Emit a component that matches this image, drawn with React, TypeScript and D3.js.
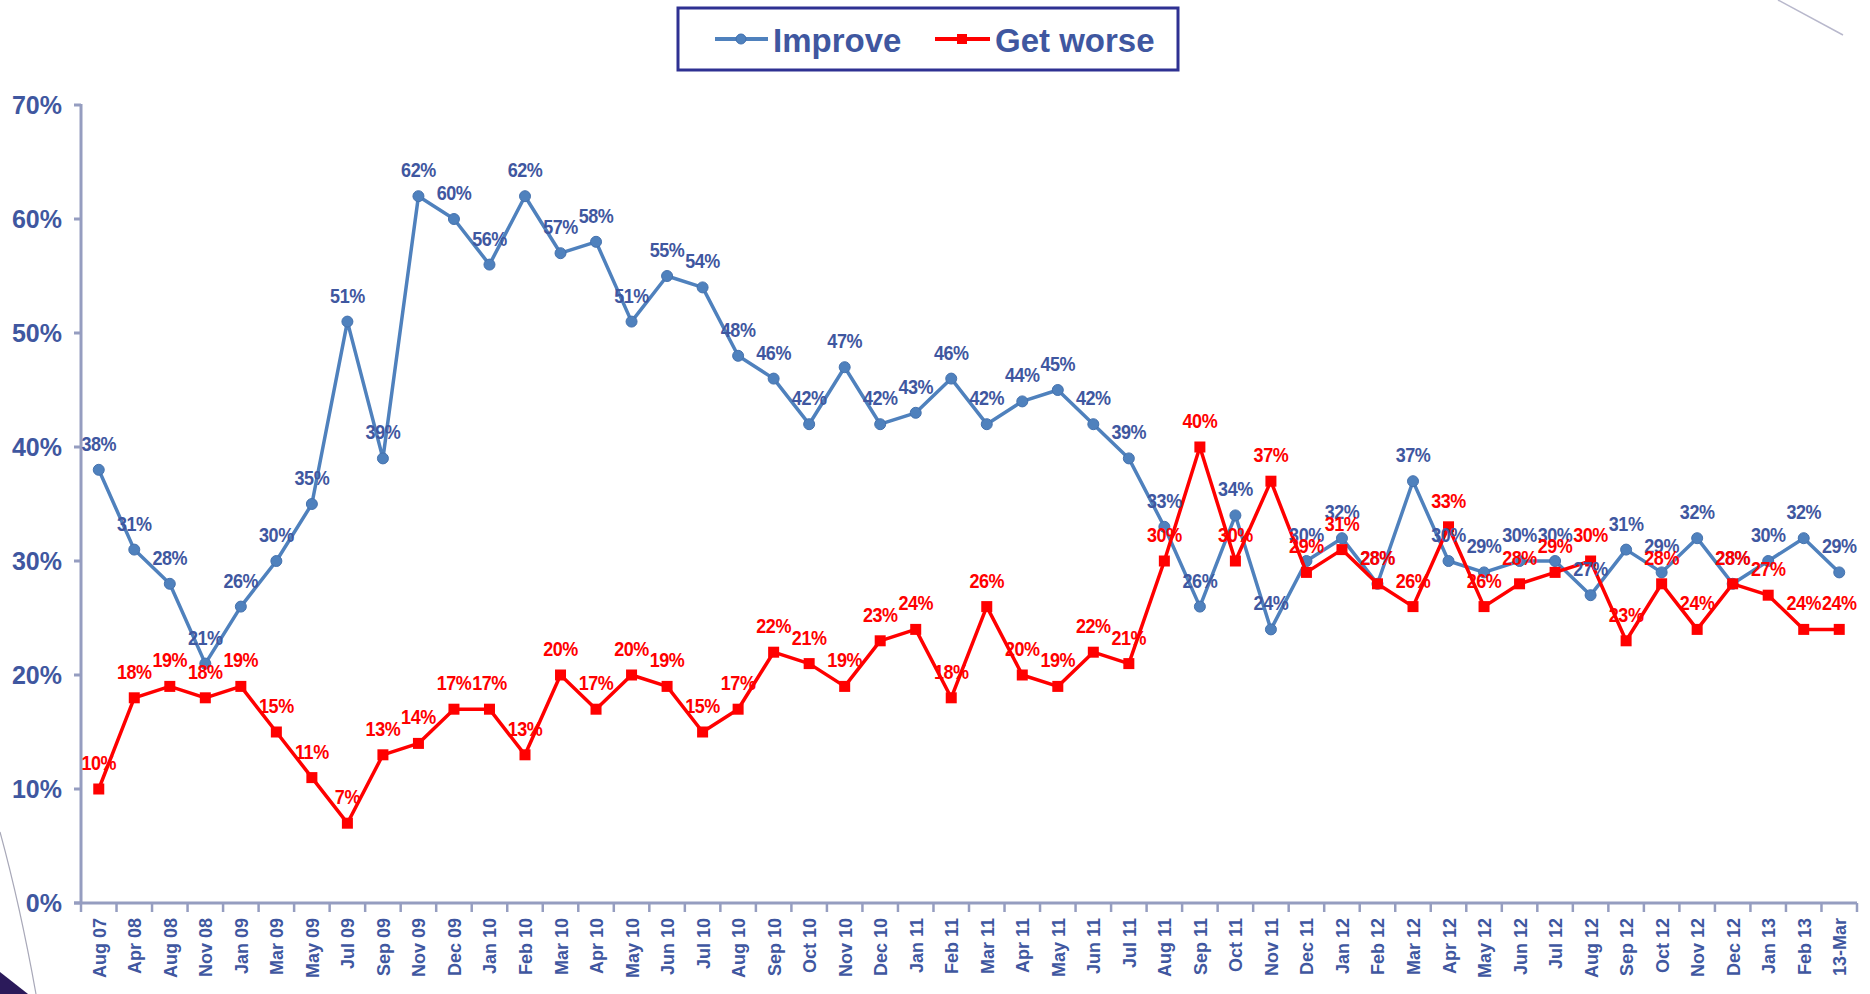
import React from "react";
import * as d3 from "d3";

const categories = [
  "Aug 07", "Apr 08", "Aug 08", "Nov 08", "Jan 09", "Mar 09", "May 09", "Jul 09", "Sep 09", "Nov 09",
  "Dec 09", "Jan 10", "Feb 10", "Mar 10", "Apr 10", "May 10", "Jun 10", "Jul 10", "Aug 10", "Sep 10",
  "Oct 10", "Nov 10", "Dec 10", "Jan 11", "Feb 11", "Mar 11", "Apr 11", "May 11", "Jun 11", "Jul 11",
  "Aug 11", "Sep 11", "Oct 11", "Nov 11", "Dec 11", "Jan 12", "Feb 12", "Mar 12", "Apr 12", "May 12",
  "Jun 12", "Jul 12", "Aug 12", "Sep 12", "Oct 12", "Nov 12", "Dec 12", "Jan 13", "Feb 13", "13-Mar",
];

const improve = [
  38, 31, 28, 21, 26, 30, 35, 51, 39, 62,
  60, 56, 62, 57, 58, 51, 55, 54, 48, 46,
  42, 47, 42, 43, 46, 42, 44, 45, 42, 39,
  33, 26, 34, 24, 30, 32, 28, 37, 30, 29,
  30, 30, 27, 31, 29, 32, 28, 30, 32, 29,
];

const getWorse = [
  10, 18, 19, 18, 19, 15, 11, 7, 13, 14,
  17, 17, 13, 20, 17, 20, 19, 15, 17, 22,
  21, 19, 23, 24, 18, 26, 20, 19, 22, 21,
  30, 40, 30, 37, 29, 31, 28, 26, 33, 26,
  28, 29, 30, 23, 28, 24, 28, 27, 24, 24,
];

const yTicks = [0, 10, 20, 30, 40, 50, 60, 70];

const TEXT = "#3F57A0";
const AXIS = "#959DC0";
const BLUE = "#4F81BD";
const RED = "#FF0000";
const FONT = "'Liberation Sans', Arial, sans-serif";

export default function App() {
  const W = 1870, H = 994;
  const left = 81, right = 1857, top = 105, bottom = 903;
  const x = d3.scaleBand<string>().domain(categories).range([left, right]);
  const y = d3.scaleLinear().domain([0, 70]).range([bottom, top]);
  const cx = (i: number) => (x(categories[i]) as number) + x.bandwidth() / 2;

  const line = d3.line<number>().x((_, i) => cx(i)).y((d) => y(d));

  const label = (v: number, i: number, color: string, key: string) => (
    <text
      key={key}
      transform={`translate(${cx(i)},${y(v) - 19}) scale(0.9,1)`}
      textAnchor="middle"
      fontFamily={FONT}
      fontWeight="bold"
      fontSize={20}
      letterSpacing={-0.5}
      fill={color}
    >
      {v}%
    </text>
  );

  const boundaries = categories.map((c) => x(c) as number).concat([right]);

  return (
    <svg width={W} height={H} style={{ position: "absolute", left: 0, top: 0, background: "#fff" }}>
      {/* decorations */}
      <line x1={1778} y1={0} x2={1843} y2={35} stroke="#B8B8CC" strokeWidth={1.5} />
      <path d="M0,832 Q20,905 36,994" fill="none" stroke="#A8A8B8" strokeWidth={1.2} />
      <polygon points="0,972 28,994 0,994" fill="#2B1A5A" />

      {/* legend */}
      <rect x={678} y={8} width={500} height={62} fill="#fff" stroke="#2E3192" strokeWidth={3} />
      <line x1={715} y1={39} x2={768} y2={39} stroke={BLUE} strokeWidth={4} />
      <circle cx={741} cy={39} r={5} fill={BLUE} stroke="#3F6FB0" strokeWidth={1} />
      <text x={773} y={52} fontFamily={FONT} fontWeight="bold" fontSize={33} fill={TEXT}>Improve</text>
      <line x1={935} y1={39} x2={990} y2={39} stroke={RED} strokeWidth={4} />
      <rect x={957} y={34} width={10} height={10} fill={RED} />
      <text x={995} y={52} fontFamily={FONT} fontWeight="bold" fontSize={33} fill={TEXT}>Get worse</text>

      {/* y axis */}
      <line x1={left} y1={top - 1} x2={left} y2={bottom} stroke={AXIS} strokeWidth={3} />
      {yTicks.map((t) => (
        <g key={t}>
          <line x1={left - 7} x2={left} y1={y(t)} y2={y(t)} stroke={AXIS} strokeWidth={3} />
          <text
            x={62}
            y={y(t) + 9}
            textAnchor="end"
            fontFamily={FONT}
            fontWeight="bold"
            fontSize={25}
            fill={TEXT}
          >
            {t}%
          </text>
        </g>
      ))}

      {/* x axis */}
      <line x1={left - 7} y1={bottom} x2={right} y2={bottom} stroke={AXIS} strokeWidth={3} />
      {boundaries.map((b, i) => (
        <line key={i} x1={b} x2={b} y1={bottom} y2={bottom + 9} stroke={AXIS} strokeWidth={2.5} />
      ))}
      {categories.map((c, i) => (
        <text
          key={c}
          transform={`translate(${cx(i) + 7},${918}) rotate(-90)`}
          textAnchor="end"
          fontFamily={FONT}
          fontWeight="bold"
          fontSize={18}
          fill={TEXT}
        >
          {c}
        </text>
      ))}

      {/* improve series */}
      <path d={line(improve) as string} fill="none" stroke={BLUE} strokeWidth={3.5} strokeLinejoin="round" />
      {improve.map((v, i) => (
        <circle key={"ic" + i} cx={cx(i)} cy={y(v)} r={5.5} fill={BLUE} stroke="#4572AE" strokeWidth={1} />
      ))}

      {/* get worse series */}
      <path d={line(getWorse) as string} fill="none" stroke={RED} strokeWidth={3.5} strokeLinejoin="round" />
      {getWorse.map((v, i) => (
        <rect key={"rc" + i} x={cx(i) - 5.5} y={y(v) - 5.5} width={11} height={11} fill={RED} />
      ))}

      {/* labels */}
      {improve.map((v, i) => label(v, i, TEXT, "il" + i))}
      {getWorse.map((v, i) => label(v, i, RED, "gl" + i))}
    </svg>
  );
}
